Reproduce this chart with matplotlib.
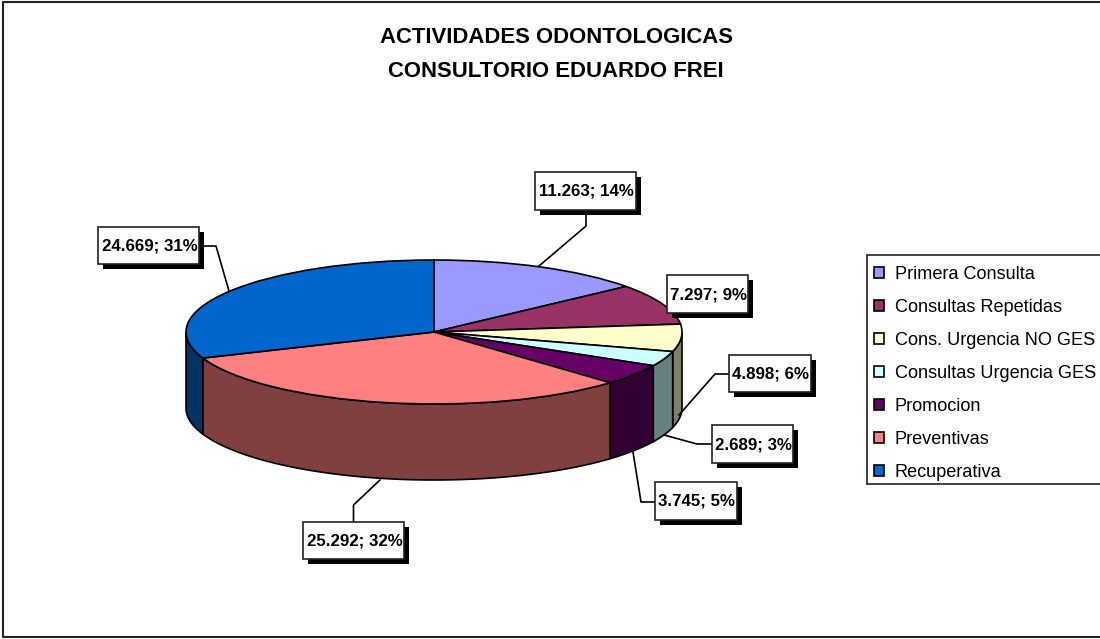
import numpy as np
import matplotlib
matplotlib.use("Agg")
import matplotlib.pyplot as plt
from matplotlib.patches import Rectangle
from matplotlib.colors import to_rgb

plt.rcParams['font.family'] = ['Liberation Sans', 'DejaVu Sans']

# --- datos ---
categorias = ["Primera Consulta", "Consultas Repetidas", "Cons. Urgencia NO GES",
              "Consultas Urgencia GES", "Promocion", "Preventivas", "Recuperativa"]
valores = [11263, 7297, 4898, 2689, 3745, 25292, 24669]
colores = ["#9999FF", "#993366", "#FFFFCC", "#CCFFFF", "#660066", "#FF8080", "#0066CC"]

# geometria en pixeles
W, H = 1100, 639
cx, cy, rx, ry, alto = 434, 332, 248, 72, 76

# caja de cada etiqueta (izq, arriba, der, abajo) y linea guia
cajas = [(535, 172, 636, 210), (667, 275, 748, 313), (729, 355, 811, 392),
         (712, 425, 793, 463), (655, 482, 737, 520), (303, 522, 404, 559),
         (98, 227, 199, 264)]
guias = [[(586, 210), (586, 226), (539, 266)], None,
         [(729, 374), (715, 374), (679, 415)],
         [(712, 444), (697, 444), (664, 435)],
         [(655, 502), (641, 502), (633, 452)],
         [(353.5, 522), (353.5, 505), (380, 480)],
         [(199, 246), (216, 246), (229, 291)]]

fig = plt.figure(figsize=(W / 100, H / 100), dpi=100, facecolor="white")

# ejes de la torta: 1 unidad = un radio de la elipse
ax = fig.add_axes([0, 0, 1, 1])
wedges, _ = ax.pie(valores, colors=colores, startangle=90, counterclock=False,
                   wedgeprops=dict(edgecolor="black", linewidth=1.2, zorder=3))
ax.set_aspect("auto")
ax.set_xlim(-cx / rx, (W - cx) / rx)
ax.set_ylim((cy - H) / ry, cy / ry)
ax.axis("off")

# paredes laterales (solo la mitad frontal), color al 50%
total = sum(valores)
fin = np.cumsum(valores) / total * 360
ini = np.concatenate(([0], fin[:-1]))
prof = alto / ry
for a, b, c in zip(ini, fin, colores):
    a, b = max(a, 90), min(b, 270)
    if b <= a:
        continue
    t = np.radians(np.linspace(a, b, 80))
    xs = np.sin(t)
    ys = np.cos(t)
    ax.fill(np.r_[xs, xs[::-1]], np.r_[ys, ys[::-1] - prof],
            facecolor=tuple(v * 0.5 for v in to_rgb(c)), edgecolor="black",
            linewidth=1.2, zorder=2)

# capa en pixeles para titulo, borde y etiquetas
ov = fig.add_axes([0, 0, 1, 1], facecolor="none")
ov.set_xlim(0, W)
ov.set_ylim(H, 0)
ov.axis("off")

ov.plot([W, 3, 3, W], [1.5, 1.5, 637, 637], color="#222222", lw=1.5, clip_on=False)
ov.text(556, 37.5, "ACTIVIDADES ODONTOLOGICAS", ha="center", va="center",
        fontsize=15.9, fontweight="bold")
ov.text(556, 71.5, "CONSULTORIO EDUARDO FREI", ha="center", va="center",
        fontsize=15.9, fontweight="bold")

for v, caja, guia in zip(valores, cajas, guias):
    x0, y0, x1, y1 = caja
    if guia:
        ov.plot(*zip(*guia), color="black", lw=1.2, zorder=4)
    ov.add_patch(Rectangle((x0 + 4.5, y0 + 4.5), x1 - x0, y1 - y0, facecolor="black",
                           edgecolor="none", zorder=5))
    ov.add_patch(Rectangle((x0, y0), x1 - x0, y1 - y0, facecolor="white",
                           edgecolor="#222222", lw=1.2, zorder=6))
    etiqueta = f"{v:,}".replace(",", ".") + f"; {round(v / total * 100)}%"
    ov.text((x0 + x1) / 2 + 1, (y0 + y1) / 2 + 0.5, etiqueta, ha="center", va="center",
            fontsize=12.2, fontweight="bold", zorder=7)

# leyenda: el marco se sale por la derecha del cuadro
ov.add_patch(Rectangle((867, 255), 260, 229, facecolor="white", edgecolor="#222222",
                       lw=1.2, zorder=8))
leg = ov.legend(wedges, categorias, loc="upper left", frameon=False,
                bbox_to_anchor=(874 / W, 1 - 266 / H), bbox_transform=fig.transFigure,
                borderaxespad=0, borderpad=0, fontsize=13.1, handlelength=0.55,
                handleheight=0.55, handletextpad=0.58, labelspacing=0.875)
leg.set_zorder(9)

fig.savefig("out.png", dpi=100)
